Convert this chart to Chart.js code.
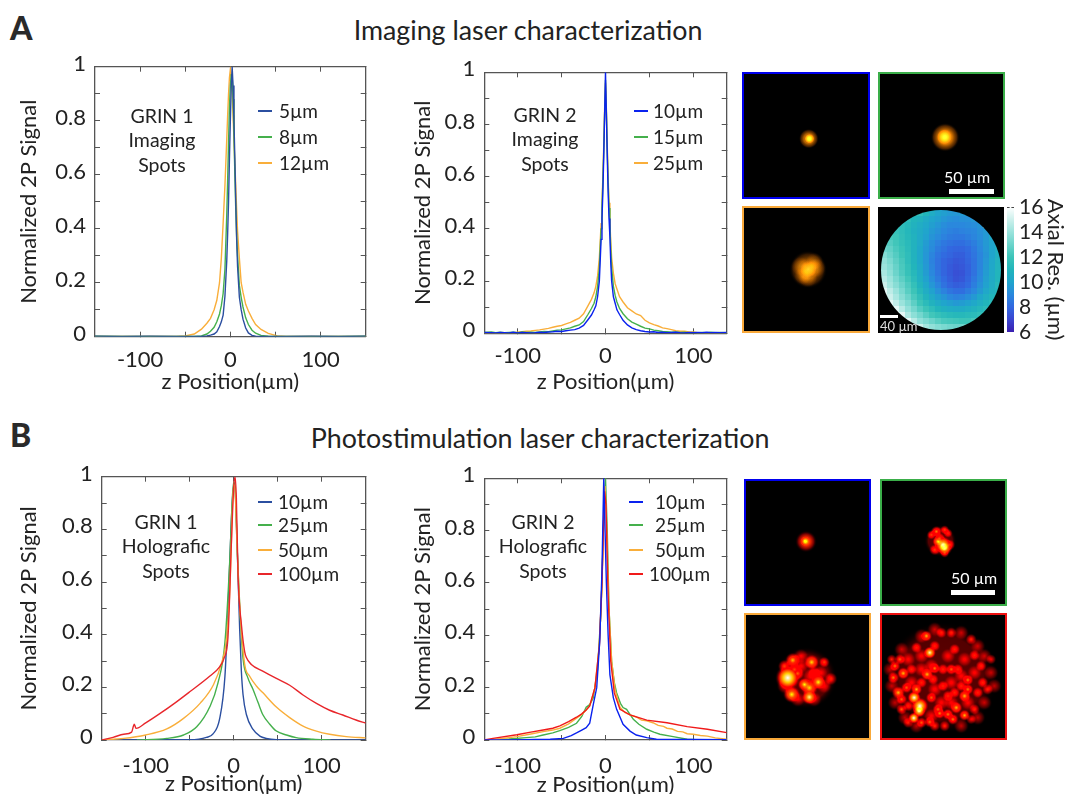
<!DOCTYPE html>
<html>
<head>
<meta charset="utf-8">
<title>Laser characterization</title>
<script src="https://cdn.jsdelivr.net/npm/chart.js@4"></script>
<style>
    html, body { margin: 0; padding: 0; background: #fff; }
    body { position: relative; width: 1066px; height: 794px; overflow: hidden; font-family: Lato, sans-serif; color: #222; }
    canvas { position: absolute; display: block; }
    .txt { position: absolute; white-space: nowrap; line-height: 1; }
    .heading { font-size: 26.8px; transform: translateX(-50%); }
    .letter { font-size: 32px; font-weight: 900; color: #2a2a2a; }
    .note { font-size: 19.5px; line-height: 24.3px; text-align: center; transform: translateX(-50%); white-space: pre; }
    .leg { font-size: 19px; }
    .swatch { position: absolute; height: 2px; }
    .bar { position: absolute; background: #fff; }
    .white { color: #fff; font-size: 16px; }
</style>
</head>
<body>

<div class="txt letter" style="left:10px;top:12px">A</div>
<div class="txt letter" style="left:10px;top:419px">B</div>
<div class="txt heading" style="left:528px;top:17px">Imaging laser characterization</div>
<div class="txt heading" style="left:540px;top:425px">Photostimulation laser characterization</div>

<canvas id="chartA1" width="356" height="343" style="left:16px;top:52px"></canvas>
<canvas id="chartA2" width="323" height="337" style="left:410px;top:58px"></canvas>
<canvas id="chartB1" width="356" height="335" style="left:16px;top:462px"></canvas>
<canvas id="chartB2" width="323" height="334" style="left:410px;top:464px"></canvas>

<div class="txt note" style="left:162px;top:104px">GRIN 1
Imaging
Spots</div>
<div class="txt note" style="left:545px;top:103px">GRIN 2
Imaging
Spots</div>
<div class="txt note" style="left:166px;top:510px">GRIN 1
Holografic
Spots</div>
<div class="txt note" style="left:543px;top:510px">GRIN 2
Holografic
Spots</div>

<div id="legends"></div>

<!-- imaging spots -->
<canvas id="spotA1" width="124" height="123" style="box-sizing:content-box;background:#000;border:2.5px solid #0000ee;left:742px;top:72px"></canvas>
<canvas id="spotA2" width="123" height="123" style="box-sizing:content-box;background:#000;border:2.5px solid #3aae49;left:878px;top:72px"></canvas>
<canvas id="spotA3" width="124" height="123" style="box-sizing:content-box;background:#000;border:2.5px solid #f9a93a;left:742px;top:206px"></canvas>
<canvas id="axialMap" width="126" height="126" style="left:878px;top:207px;background:#000"></canvas>
<canvas id="axialBar" width="61" height="150" style="left:1007px;top:195px"></canvas>
<div style="position:absolute;left:1007px;top:207px;width:7px;border-top:1px dashed #444"></div>

<!-- holographic spots -->
<canvas id="spotB1" width="123" height="123" style="box-sizing:content-box;background:#000;border:2.5px solid #0000ee;left:744px;top:479px"></canvas>
<canvas id="spotB2" width="123" height="123" style="box-sizing:content-box;background:#000;border:2.5px solid #3aae49;left:880px;top:479px"></canvas>
<canvas id="spotB3" width="123" height="123" style="box-sizing:content-box;background:#000;border:2.5px solid #f9a93a;left:744px;top:613px"></canvas>
<canvas id="spotB4" width="123" height="123" style="box-sizing:content-box;background:#000;border:2.5px solid #ee1111;left:880px;top:613px"></canvas>

<div class="bar" style="left:949px;top:189px;width:45px;height:5px"></div>
<div class="txt white" style="left:944px;top:169px">50 µm</div>
<div class="bar" style="left:880px;top:315px;width:18px;height:3px"></div>
<div class="txt white" style="left:880px;top:320px;font-size:13px;color:#ddd">40 µm</div>
<div class="bar" style="left:951px;top:590px;width:44px;height:5px"></div>
<div class="txt white" style="left:951px;top:570px">50 µm</div>

<script>
// tick values, same on every profile plot
var yTickValues = [0, 0.1, 0.2, 0.3, 0.4, 0.5, 0.6, 0.7, 0.8, 0.9, 1];
var yTickLabels = [0, 0.2, 0.4, 0.6, 0.8, 1];
var xTickValues = [-100, -50, 0, 50, 100];
var xTickLabels = [-100, 0, 100];

// GRIN 1 imaging
var a1Z = [-150,-120,-90,-60,-50,-40,-32,-26,-22,-18,-15,-12,-10,-8,-6,-4,-3,-2,-1,0,1,2,3,4,5,6,7,8,10,12,14,17,20,24,28,34,42,52,62,90,120,150];
var a1Blue = [.002,.001,.002,.001,.001,.001,.001,.003,.006,.01,.018,.038,.055,.08,.15,.28,.38,.5,.66,.8,.93,1,.93,.8,.66,.5,.36,.26,.146,.1,.065,.032,.014,.005,.002,.001,.001,.001,.001,.002,.001,.002];
var a1Green = [.002,.001,.001,.001,.001,.001,.003,.01,.02,.035,.055,.084,.115,.16,.25,.45,.58,.72,.85,.93,.97,.97,.88,.75,.6,.47,.37,.3,.19,.146,.11,.07,.045,.024,.013,.005,.002,.001,.001,.001,.001,.002];
var a1Orange = [.001,.001,.001,.001,.003,.01,.028,.05,.068,.1,.135,.2,.29,.42,.56,.73,.82,.9,.96,.99,.96,.9,.82,.73,.64,.56,.47,.39,.29,.2,.165,.12,.095,.068,.045,.027,.012,.003,.001,.001,.001,.001];

// GRIN 2 imaging
var a2Z = [-138,-130,-125,-120,-115,-110,-105,-100,-95,-90,-85,-80,-75,-70,-65,-60,-55,-50,-45,-40,-35,-30,-25,-20,-16,-13,-11,-9,-7,-5,-4,-3,-2,-1,0,1,2,3,4,5,6,7,9,11,13,16,20,25,30,35,40,45,50,55,60,65,70,75,80,85,90,95,100,105,110,115,120,125,130,138];
var a2Blue = [.003,.002,.001,.003,.002,.001,.004,.001,.003,.002,.001,.002,.004,.003,.005,.006,.008,.007,.01,.012,.014,.02,.03,.052,.07,.09,.105,.14,.2,.36,.44,.54,.68,.84,1,.84,.68,.54,.44,.37,.27,.2,.14,.115,.09,.072,.05,.032,.021,.014,.01,.007,.005,.006,.003,.004,.002,.003,.004,.002,.001,.003,.002,.003,.002,.004,.002,.003,.002,.003];
var a2Green = [.003,.005,.002,.004,.002,.003,.004,.002,.005,.003,.004,.003,.005,.007,.006,.009,.012,.013,.017,.021,.027,.032,.045,.072,.095,.115,.14,.18,.25,.4,.48,.58,.7,.84,.97,.85,.7,.58,.48,.42,.32,.25,.18,.145,.12,.095,.075,.056,.043,.035,.027,.02,.017,.012,.01,.007,.006,.004,.005,.003,.004,.002,.003,.002,.003,.002,.004,.002,.003,.002];
var a2Orange = [.001,.002,.001,.002,.001,.002,.002,.004,.006,.008,.009,.011,.013,.016,.019,.023,.027,.03,.036,.042,.05,.058,.075,.105,.13,.155,.18,.22,.29,.42,.5,.6,.72,.86,.96,.86,.72,.6,.5,.43,.35,.29,.23,.19,.17,.14,.12,.098,.086,.074,.068,.05,.04,.033,.028,.021,.018,.014,.01,.008,.008,.005,.005,.002,.002,.001,.002,.001,.002,.001];

// GRIN 1 holographic
var b1RedZ = [-150,-137,-125,-116,-113,-111,-100,-84,-65,-50,-27,-16,-11,-6.5,-2.6,0,1.5,3,5,9,12.5,14.4,20,33,48.5,63.6,78.8,94,109,124,139,150];
var b1Red = [0,.01,.022,.03,.06,.044,.065,.1,.145,.183,.243,.278,.31,.39,.75,.96,1,.92,.62,.43,.335,.313,.287,.262,.234,.208,.171,.139,.113,.095,.076,.064];
var b1OrangeZ = [-150,-125,-100,-76,-57,-38,-23,-14,-8,-4,-1.5,0,1.5,4,7,12.5,18,25.8,33,48.5,63.6,78.8,94,109,128,150];
var b1Orange = [0,.006,.019,.042,.082,.14,.21,.29,.39,.6,.88,.97,.95,.72,.5,.287,.243,.205,.18,.125,.085,.053,.034,.022,.013,.008];
var b1GreenZ = [-110,-76,-57,-42,-27,-18,-10,-4.5,-1.5,0,1.5,4,7,10.6,16,22,27.7,33,41,48.5,60,71,90,110];
var b1Green = [0,.006,.019,.05,.127,.215,.37,.68,.92,.98,.96,.72,.5,.31,.237,.192,.142,.097,.06,.034,.019,.009,.003,0];
var b1BlueZ = [-150,-50,-31,-23.5,-16,-10,-6.4,-2.6,0,1.5,3.8,6.8,8.7,10.6,14.4,22,29.7,37,48.5,70,150];
var b1Blue = [0,.001,.01,.023,.08,.24,.5,.84,.97,.96,.75,.42,.262,.173,.097,.04,.015,.006,.001,0,0];

// GRIN 2 holographic
var b2BlueZ = [-138,-100,-80,-63,-48,-39,-33,-27,-22,-18,-14,-10,-6.5,-4,-2,-.5,1,3,5,8.9,12.7,20,27.9,35,47,58,70,100,138];
var b2Blue = [0,0,.002,.003,.006,.017,.027,.038,.047,.064,.134,.2,.38,.65,1,.8,.6,.4,.25,.162,.117,.06,.034,.019,.009,.003,.002,.002,.001];
var b2GreenZ = [-138,-110,-90,-80,-71,-60,-52,-42,-33,-27,-22,-18,-14,-9,-5,-2,0,2,4,7,10,12.7,17,20,24,31.7,38,47,55,62,77,93,108,138];
var b2Green = [0,.004,.009,.012,.019,.027,.036,.048,.064,.09,.125,.135,.16,.27,.5,.85,1,.8,.5,.3,.22,.18,.14,.124,.117,.079,.06,.041,.03,.022,.013,.003,0,0];
var b2OrangeZ = [-138,-128,-101,-85,-71,-60,-52,-42,-33,-27,-22,-18,-12,-7,-4,-2,-.5,1,4,7,11,16.5,22,27.9,35,41,47,54,60,66,70,76,82,88,93,100,108,116,125,138];
var b2Orange = [0,.001,.013,.023,.032,.038,.045,.062,.083,.098,.115,.13,.2,.36,.6,.85,.97,.85,.5,.3,.19,.125,.105,.096,.088,.076,.073,.066,.056,.052,.045,.042,.033,.031,.024,.022,.017,.015,.008,.003];
var b2RedZ = [-138,-128,-101,-85,-71,-60,-52,-42,-33,-27,-22,-18,-12,-7,-4,-2,-1,.5,3,6,10,16.5,27.9,47,70,93,116,138];
var b2Red = [0,.006,.02,.03,.038,.045,.054,.07,.087,.1,.115,.13,.2,.36,.6,.85,.95,.9,.55,.3,.18,.117,.096,.076,.066,.051,.041,.028];

// spot images, x/y in image position, r and i are spot size and brightness
var a1SpotX = [223, 225], a1SpotY = [237, 237], a1SpotR = [10, 5], a1SpotI = [.85, .8];
var a2SpotX = [632, 630], a2SpotY = [233, 232], a2SpotR = [14.5, 8], a2SpotI = [.95, .6];
var a3SpotX = [221, 222, 198, 245, 220, 240, 205], a3SpotY = [630, 628, 620, 625, 655, 605, 650], a3SpotR = [19, 9, 10, 10, 10, 9, 9], a3SpotI = [.65, .4, .22, .25, .25, .2, .2];

var b1SpotX = [215, 212], b1SpotY = [215, 214], b1SpotR = [11, 5], b1SpotI = [.72, .75];
var b2SpotX = [625,610,630,605,630,590,640,645,600,630,615], b2SpotY = [225,215,235,185,180,195,190,225,240,250,205], b2SpotR = [9,6,8,6,5,5,5,6,6,5,6], b2SpotI = [.95,.8,.9,.6,.5,.5,.45,.5,.5,.5,.5];
var b3SpotX = [160,175,232,270,210,252,225,172,225,290,190,150,180,240,200,260,150,270,230,190,200,240];
var b3SpotY = [625,572,578,578,645,638,655,675,683,628,612,590,600,610,560,610,650,650,620,690,590,690];
var b3SpotR = [13,8,8,6,7,8,9,9,8,7,7,7,7,7,8,8,8,8,9,8,8,8];
var b3SpotI = [1.1,.7,.75,.5,.8,.8,.75,.8,.9,.45,.55,.5,.5,.4,.3,.3,.3,.3,.3,.3,.3,.3];
var b4SpotX = [585,538,555,553,537,575,545,480,505,577,600,650,700,690,700,665,690,655,615,640,585,490,475,515,590,625,595,545,650,710,720,770,740,760,745,670,625,610,630,520,470,495,530,500,560,720,660,600,620,680,730,560,710,600,660,640,500,520,500,560,600,680,730,750,770,780,750,730,680,560,520,470,465,480,510,545,650,680,620,590,650,700,640,690,590,530,720,600,560];
var b4SpotY = [550,685,710,725,746,500,660,590,612,615,597,600,632,680,660,715,738,750,732,735,758,670,625,655,685,650,630,535,490,510,558,570,590,660,640,600,600,720,770,760,570,570,600,720,760,720,540,530,490,650,670,640,750,770,670,680,690,710,540,500,480,490,530,560,610,650,700,745,770,600,570,650,600,700,745,770,640,620,700,740,700,700,560,570,590,640,610,660,560];
var b4SpotR = [6.5,7,9,7,6,6,6,6,6.5,6.5,6,6,6,6.5,6,6.5,6,6,6,6,6,7,6.5,6,6,6,6,6,6,6,6,5.5,6,6,6,6,6,6,6,6,5.5,6,6,6,6,6,6,6,6,6,6,6,5.5,6,6,6,6,6,8,8,8,8,8,8,8,8,8,8,8,8,8,8,8,8,8,8,8,8,8,8,8,8,8,8,8,8,8,8,8];
var b4SpotI = [.95,1,1,.95,1,.7,.7,.6,.7,.7,.6,.55,.6,.7,.6,.7,.7,.6,.6,.6,.55,.7,.6,.55,.55,.45,.45,.45,.45,.45,.45,.4,.45,.45,.45,.45,.45,.55,.45,.45,.45,.55,.45,.55,.55,.45,.45,.45,.45,.45,.45,.45,.4,.45,.45,.45,.55,.45,.3,.3,.3,.3,.3,.3,.3,.3,.3,.3,.3,.3,.3,.3,.3,.3,.3,.3,.3,.3,.3,.3,.3,.3,.3,.3,.3,.3,.3,.3,.3];
// dim disk under the bright speckles
var b2BaseX = [617], b2BaseY = [213], b2BaseR = [16];
var b3BaseX = [215], b3BaseY = [625], b3BaseR = [31];
var b4BaseX = [620], b4BaseY = [625], b4BaseR = [56];

// axial resolution map in um, rows top to bottom
var n = null;
var axialRes = [
    [n,n,n,n,n,11.8,11.5,11,10.5,10,9.8,9.6,9.5,9.6,10,n,n,n,n,n],
    [n,n,n,n,11.5,11,10.8,10.4,10,9.8,9.5,9.3,9.2,9.3,9.3,9.5,12,n,n,n],
    [n,n,12,11.5,11.2,10.8,10.5,10.2,9.8,9.5,9.2,9,9,9,9.1,9.2,9.4,14,n,n],
    [n,n,11.8,11.5,11.1,10.7,10.4,10,9.6,9.3,9,8.8,8.7,8.8,8.9,9,9.3,9.6,14,n],
    [n,12.2,12,11.6,11.2,10.8,10.3,9.9,9.4,9.1,8.8,8.6,8.5,8.5,8.7,8.9,9.2,9.6,10.2,n],
    [13,12.5,12.1,11.7,11.3,10.8,10.3,9.7,9.2,8.8,8.5,8.3,8.2,8.2,8.4,8.7,9.1,9.6,10,10.6],
    [13,12.8,12.3,11.9,11.4,10.8,10.2,9.6,9.1,8.6,8.3,8,7.9,7.9,8.1,8.5,9,9.5,10,10.6],
    [13.5,13,12.5,12,11.5,10.8,10.2,9.5,8.9,8.4,8.1,7.9,7.7,7.7,8,8.4,8.9,9.4,10,10.7],
    [13.8,13.3,12.7,12.2,11.5,10.9,10.2,9.5,8.8,8.3,7.9,7.7,7.5,7.6,7.9,8.3,8.9,9.5,10.1,10.8],
    [14,13.5,12.9,12.3,11.7,11,10.3,9.6,8.9,8.3,7.9,7.6,7.4,7.5,7.8,8.3,8.9,9.6,10.2,10.9],
    [14.3,13.7,13,12.4,11.8,11.2,10.5,9.7,9,8.4,7.9,7.6,7.3,7.4,7.8,8.3,9,9.7,10.3,11],
    [14.6,14,13.3,12.7,12.1,11.4,10.6,9.9,9.2,8.6,8.1,7.7,7.4,7.5,7.9,8.5,9.1,9.8,10.4,11],
    [15,14.2,13.6,13,12.4,11.7,10.9,10.2,9.5,8.9,8.3,7.9,7.7,7.8,8.1,8.7,9.3,9.9,10.5,11.2],
    [15.5,14.7,14,13.3,12.6,12,11.2,10.5,9.9,9.3,8.8,8.4,8.2,8.2,8.6,9,9.6,10.2,10.7,11],
    [15.5,15,14.3,13.6,13,12.3,11.6,10.9,10.3,9.8,9.4,9,8.8,8.9,9.2,9.6,10.1,10.6,11,11.2],
    [n,15.5,14.8,14,13.4,12.7,12,11.4,10.8,10.4,10,9.8,9.6,9.7,9.9,10.2,10.6,11,11.3,n],
    [n,n,15.5,14.6,13.8,13.2,12.5,12,11.5,11,10.7,10.5,10.4,10.4,10.6,10.8,11.1,11.4,n,n],
    [n,n,15.5,15.5,14.4,13.7,13.2,12.6,12.1,11.8,11.5,11.3,11.2,11.2,11.3,11.4,11.6,11.8,n,n],
    [n,n,n,n,15.5,14.6,13.8,13.4,13,12.6,12.3,12.2,12.1,12,12,12.2,n,n,n,n],
    [n,n,n,n,n,15.5,15,14.2,13.8,13.5,13.3,13.1,13,13,13.2,n,n,n,n,n]
];
var axialStops = [6, 7, 8, 9, 10, 11, 12, 13, 14, 15, 16];
var axialColors = [[58,31,176],[58,69,208],[50,104,224],[42,136,221],[32,165,204],[34,181,187],[60,196,184],[108,212,203],[155,227,220],[205,240,236],[255,255,255]];
var axialTicks = [6, 8, 10, 12, 14, 16];

var colBlueDark = '#2b4fa0', colBlue = '#0a22ee', colGreen = '#45b04c', colOrange = '#f9ae3a', colRed = '#e8262b';

function toPoints(zs, vals) {
    return zs.map(function(z, i) { return { x: z, y: vals[i] }; });
}

function line(label, zs, vals, color, order, smooth) {
    return {
        label: label,
        data: toPoints(zs, vals),
        borderColor: color,
        borderWidth: 1.4,
        pointRadius: 0,
        order: order,
        cubicInterpolationMode: smooth ? 'monotone' : 'default'
    };
}

// the hidden axis on the far side only gives the inward ticks there
function frameAxis(position, minV, maxV, tickValues, size) {
    return {
        type: 'linear',
        position: position,
        min: minV,
        max: maxV,
        afterBuildTicks: function(axis) { axis.ticks = tickValues.map(function(v) { return { value: v }; }); },
        afterFit: function(axis) {
            if (axis.isHorizontal()) { axis.height = size; } else { axis.width = size; }
            axis.paddingTop = axis.paddingBottom = axis.paddingLeft = axis.paddingRight = 0;
        },
        border: { color: '#555', width: 1.3 },
        grid: { drawOnChartArea: false, tickLength: -5, color: '#555', tickWidth: 1 },
        ticks: { display: false, autoSkip: false }
    };
}

function initProfile(chartId, datasets, xMax, leftW, bottomH, padTop, padRight, xPad) {
    var x = frameAxis('bottom', -xMax, xMax, xTickValues, bottomH);
    x.ticks = {
        autoSkip: false, maxRotation: 0, padding: xPad, color: '#222', font: { family: 'Lato', size: 22 },
        callback: function(v) { return xTickLabels.indexOf(v) >= 0 ? String(v) : ''; }
    };
    x.title = { display: true, text: 'z Position(µm)', color: '#222', font: { family: 'Lato', size: 22 }, padding: 0 };

    var y = frameAxis('left', 0, 1, yTickValues, leftW);
    y.ticks = {
        autoSkip: false, padding: 14, color: '#222', labelOffset: -3, font: { family: 'Lato', size: 22 },
        callback: function(v) { return yTickLabels.indexOf(v) >= 0 ? String(v) : ''; }
    };
    y.title = { display: true, text: 'Normalized 2P Signal', color: '#222', font: { family: 'Lato', size: 22 }, padding: 0 };

    new Chart(document.getElementById(chartId), {
        type: 'line',
        data: { datasets: datasets },
        options: {
            responsive: false,
            animation: false,
            parsing: false,
            layout: { autoPadding: false, padding: { top: padTop, right: padRight, left: 0, bottom: 0 } },
            plugins: { legend: { display: false }, tooltip: { enabled: false } },
            scales: {
                x: x,
                y: y,
                xTop: frameAxis('top', -xMax, xMax, xTickValues, 0),
                yRight: frameAxis('right', 0, 1, yTickValues, 0)
            }
        }
    });
}

initProfile('chartA1', [
    line('5µm', a1Z, a1Blue, colBlueDark, 1),
    line('8µm', a1Z, a1Green, colGreen, 2),
    line('12µm', a1Z, a1Orange, colOrange, 3)
], 150, 79, 58.3, 14.7, 6.3, 15);

initProfile('chartA2', [
    line('10µm', a2Z, a2Blue, colBlue, 1),
    line('15µm', a2Z, a2Green, colGreen, 2),
    line('25µm', a2Z, a2Orange, colOrange, 3)
], 138, 74.3, 61.7, 14.3, 6.3, 14.5);

initProfile('chartB1', [
    line('10µm', b1BlueZ, b1Blue, colBlueDark, 4, true),
    line('25µm', b1GreenZ, b1Green, colGreen, 3, true),
    line('50µm', b1OrangeZ, b1Orange, colOrange, 2, true),
    line('100µm', b1RedZ, b1Red, colRed, 1, true)
], 150, 85.7, 57, 14.7, 6.3, 17.5);

initProfile('chartB2', [
    line('10µm', b2BlueZ, b2Blue, colBlue, 1),
    line('25µm', b2GreenZ, b2Green, colGreen, 4),
    line('50µm', b2OrangeZ, b2Orange, colOrange, 3),
    line('100µm', b2RedZ, b2Red, '#f01a1a', 2)
], 138, 74.3, 58, 14.3, 6.3, 17.5);

// Legends beside the curves
function addLegend(names, colors, swatchX, textXs, ys) {
    var box = document.getElementById('legends');
    names.forEach(function(name, i) {
        var sw = document.createElement('div');
        sw.className = 'swatch';
        sw.style.cssText = 'left:' + swatchX + 'px;top:' + (ys[i] - 1) + 'px;width:14px;background:' + colors[i];
        var t = document.createElement('div');
        t.className = 'txt leg';
        t.textContent = name;
        t.style.top = (ys[i] - 10) + 'px';
        t.style.left = textXs[i] + 'px';
        box.appendChild(sw);
        box.appendChild(t);
    });
}
addLegend(['5µm', '8µm', '12µm'], [colBlueDark, colGreen, colOrange], 258, [279, 279, 279], [111, 137, 163]);
addLegend(['10µm', '15µm', '25µm'], [colBlue, colGreen, colOrange], 634, [653, 653, 653], [111, 137, 163]);
addLegend(['10µm', '25µm', '50µm', '100µm'], [colBlueDark, colGreen, colOrange, colRed], 258, [278, 278, 278, 278], [502, 525, 550, 574]);
addLegend(['10µm', '25µm', '50µm', '100µm'], [colBlue, colGreen, colOrange, '#f01a1a'], 629, [655, 655, 655, 649], [502, 525, 550, 574]);

// Spots are additive so that overlaps run hotter, like the camera images
var additive = {
    id: 'additive',
    beforeDatasetsDraw: function(chart) { chart.ctx.save(); chart.ctx.globalCompositeOperation = 'lighter'; },
    afterDatasetsDraw: function(chart) { chart.ctx.restore(); }
};

// black-red-yellow-white colour ramp of the holographic images
function hot(t) {
    var r = Math.min(1, t / 0.4);
    var g = Math.max(0, Math.min(1, (t - 0.4) / 0.4));
    var b = Math.max(0, Math.min(1, (t - 0.8) / 0.2));
    return 'rgb(' + Math.round(r * 255) + ',' + Math.round(g * 255) + ',' + Math.round(b * 255) + ')';
}

function spotFill(isHot) {
    return function(c) {
        var p = c.raw;
        if (!p || !c.chart.chartArea) { return 'rgba(0,0,0,0)'; }
        var px = c.chart.scales.x.getPixelForValue(p.x);
        var py = c.chart.scales.y.getPixelForValue(p.y);
        var g = c.chart.ctx.createRadialGradient(px, py, 0, px, py, p.r);
        if (isHot) {
            g.addColorStop(0, hot(p.i));
            g.addColorStop(0.35, hot(p.i * 0.65));
            g.addColorStop(0.7, hot(p.i * 0.25));
        } else {
            g.addColorStop(0, 'rgba(255,190,40,' + p.i + ')');
            g.addColorStop(0.5, 'rgba(240,130,0,' + p.i * 0.9 + ')');
            g.addColorStop(0.8, 'rgba(130,60,0,' + p.i * 0.6 + ')');
        }
        g.addColorStop(1, 'rgba(0,0,0,0)');
        return g;
    };
}

function baseFill(c) {
    var p = c.raw;
    if (!p || !c.chart.chartArea) { return 'rgba(0,0,0,0)'; }
    var px = c.chart.scales.x.getPixelForValue(p.x);
    var py = c.chart.scales.y.getPixelForValue(p.y);
    var g = c.chart.ctx.createRadialGradient(px, py, 0, px, py, p.r);
    g.addColorStop(0, hot(0.15));
    g.addColorStop(0.75, hot(0.13));
    g.addColorStop(1, 'rgba(0,0,0,0)');
    return g;
}

function initSpots(chartId, xs, ys, rs, is, xRange, yRange, isHot, bx, by, br) {
    var sets = [{
        data: xs.map(function(v, i) { return { x: v, y: ys[i], r: rs[i], i: is[i] }; }),
        borderWidth: 0,
        backgroundColor: spotFill(isHot)
    }];
    if (bx) {
        sets.push({
            data: bx.map(function(v, i) { return { x: v, y: by[i], r: br[i] }; }),
            borderWidth: 0,
            backgroundColor: baseFill
        });
    }
    new Chart(document.getElementById(chartId), {
        type: 'bubble',
        data: { datasets: sets },
        options: {
            responsive: false,
            animation: false,
            layout: { autoPadding: false },
            plugins: { legend: { display: false }, tooltip: { enabled: false } },
            scales: {
                x: { display: false, min: xRange[0], max: xRange[1] },
                y: { display: false, reverse: true, min: yRange[0], max: yRange[1] }
            }
        },
        plugins: [additive]
    });
}

initSpots('spotA1', a1SpotX, a1SpotY, a1SpotR, a1SpotI, [28, 401], [43, 412], false);
initSpots('spotA2', a2SpotX, a2SpotY, a2SpotR, a2SpotI, [436, 806], [43, 412], false);
initSpots('spotA3', a3SpotX, a3SpotY, a3SpotR, a3SpotI, [28, 401], [444, 816], false);
initSpots('spotB1', b1SpotX, b1SpotY, b1SpotR, b1SpotI, [34, 405], [33, 403], true);
initSpots('spotB2', b2SpotX, b2SpotY, b2SpotR, b2SpotI, [441, 812], [33, 403], true, b2BaseX, b2BaseY, b2BaseR);
initSpots('spotB3', b3SpotX, b3SpotY, b3SpotR, b3SpotI, [34, 405], [436, 806], true, b3BaseX, b3BaseY, b3BaseR);
initSpots('spotB4', b4SpotX, b4SpotY, b4SpotR, b4SpotI, [441, 812], [437, 806], true, b4BaseX, b4BaseY, b4BaseR);

function axialColor(v) {
    for (var i = 1; i < axialStops.length; i++) {
        if (v <= axialStops[i]) {
            var t = (v - axialStops[i - 1]) / (axialStops[i] - axialStops[i - 1]);
            var a = axialColors[i - 1], b = axialColors[i];
            return 'rgb(' + Math.round(a[0] + (b[0] - a[0]) * t) + ',' + Math.round(a[1] + (b[1] - a[1]) * t) + ',' + Math.round(a[2] + (b[2] - a[2]) * t) + ')';
        }
    }
    return '#fff';
}

// Round field of view: cells outside the disk are cut off
var diskClip = {
    id: 'diskClip',
    beforeDatasetsDraw: function(chart) {
        var sx = chart.scales.x, sy = chart.scales.y;
        var ctx = chart.ctx;
        ctx.save();
        ctx.beginPath();
        ctx.arc(sx.getPixelForValue(10), sy.getPixelForValue(10), Math.abs(sx.getPixelForValue(10) - sx.getPixelForValue(0)), 0, Math.PI * 2);
        ctx.clip();
    },
    afterDatasetsDraw: function(chart) { chart.ctx.restore(); }
};

var axialCells = [];
axialRes.forEach(function(row, r) {
    row.forEach(function(v, c) {
        if (v !== null) { axialCells.push({ x: c + 0.5, y: r + 0.5, v: v }); }
    });
});

new Chart(document.getElementById('axialMap'), {
    type: 'scatter',
    data: {
        datasets: [{
            data: axialCells,
            pointStyle: 'rect',
            pointRadius: 4.3,
            borderWidth: 0,
            backgroundColor: function(c) { return c.raw ? axialColor(c.raw.v) : '#000'; }
        }]
    },
    options: {
        responsive: false,
        animation: false,
        layout: { autoPadding: false },
        plugins: { legend: { display: false }, tooltip: { enabled: false } },
        scales: {
            x: { display: false, min: -0.5, max: 20.5 },
            y: { display: false, reverse: true, min: -0.5, max: 20.5 }
        }
    },
    plugins: [diskClip]
});

// Colour bar: one floating bar filled with the map's colours
new Chart(document.getElementById('axialBar'), {
    type: 'bar',
    data: {
        labels: [''],
        datasets: [{
            data: [[6, 16]],
            barPercentage: 1,
            categoryPercentage: 1,
            backgroundColor: function(c) {
                var area = c.chart.chartArea;
                if (!area) { return '#000'; }
                var g = c.chart.ctx.createLinearGradient(0, area.bottom, 0, area.top);
                axialStops.forEach(function(v, i) {
                    g.addColorStop((v - 6) / 10, 'rgb(' + axialColors[i].join(',') + ')');
                });
                return g;
            }
        }]
    },
    options: {
        responsive: false,
        animation: false,
        layout: { autoPadding: false, padding: { top: 12, bottom: 13 } },
        plugins: { legend: { display: false }, tooltip: { enabled: false } },
        scales: {
            x: { display: false },
            y: {
                position: 'right', min: 6, max: 16,
                afterBuildTicks: function(axis) { axis.ticks = axialTicks.map(function(v) { return { value: v }; }); },
                afterFit: function(axis) {
                    axis.width = 54;
                    axis.paddingTop = axis.paddingBottom = 0;
                },
                border: { display: false },
                grid: { display: false, drawTicks: false },
                ticks: { autoSkip: false, color: '#222', padding: 5, font: { family: 'Lato', size: 21 } },
                title: { display: true, text: 'Axial Res. (µm)', color: '#222', font: { family: 'Lato', size: 22 }, padding: 0 }
            }
        }
    }
});
</script>
</body>
</html>
